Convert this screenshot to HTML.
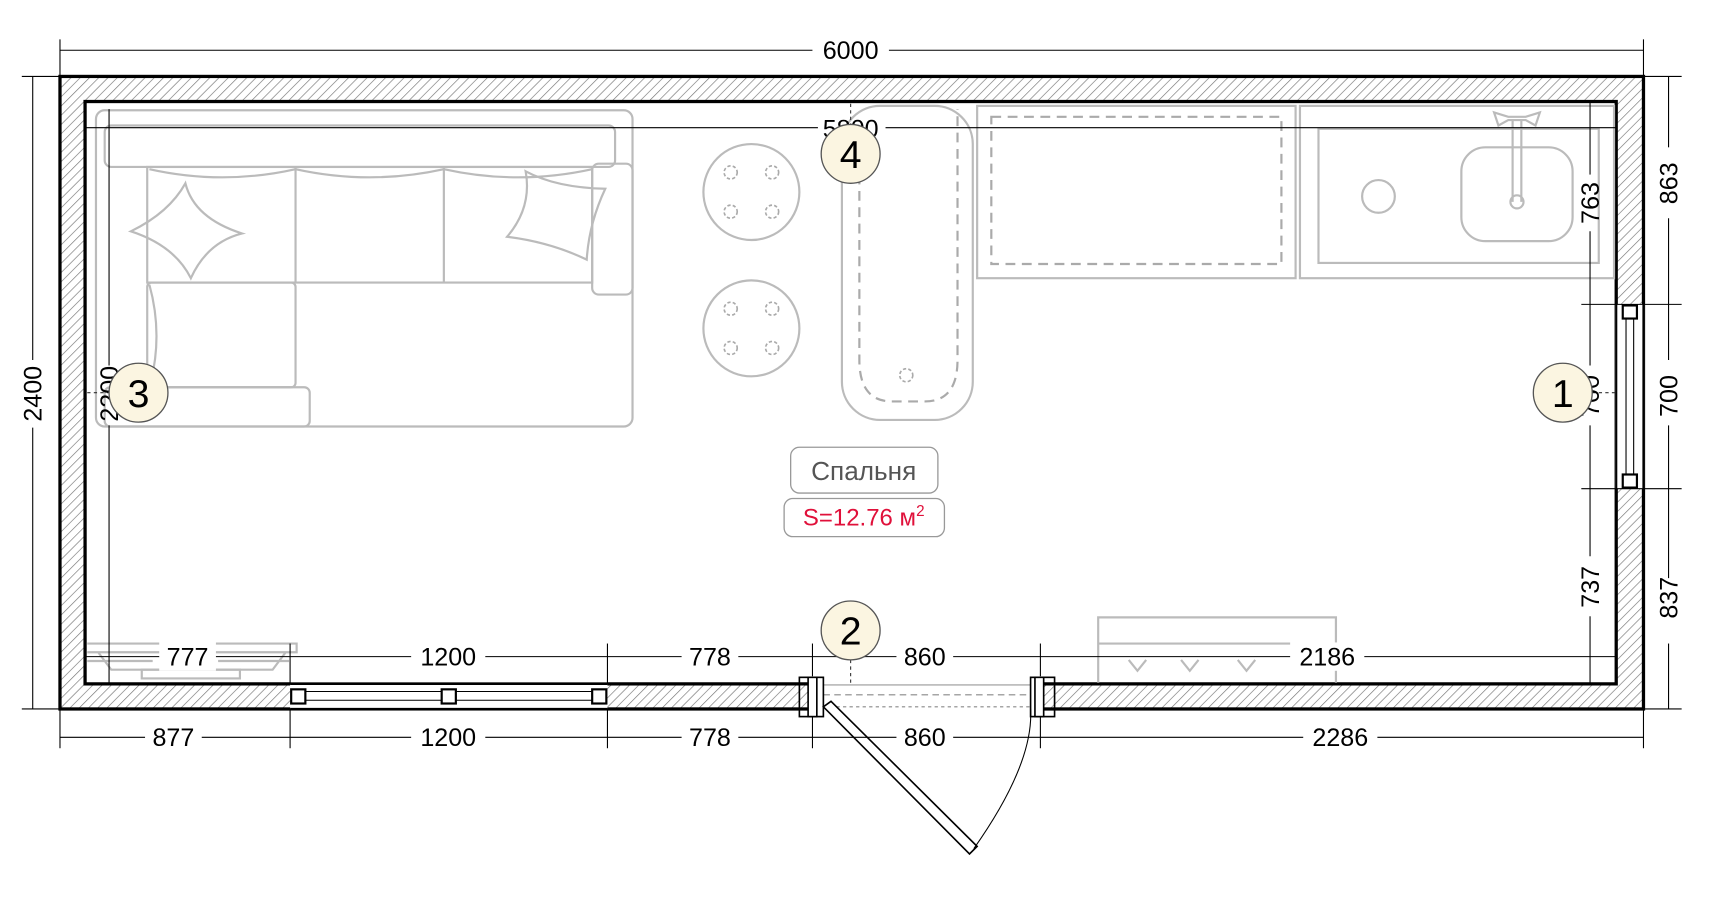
<!DOCTYPE html>
<html><head><meta charset="utf-8"><style>
html,body{margin:0;padding:0;background:#fff;}
svg{display:block;}
text{font-family:"Liberation Sans",Arial,sans-serif;}
</style></head><body>
<svg width="1710" height="913" viewBox="0 0 1568 837" xmlns="http://www.w3.org/2000/svg">
<defs>
<pattern id="h" width="6" height="6" patternUnits="userSpaceOnUse" patternTransform="rotate(45)">
<rect width="6" height="6" fill="#fff"/><line x1="0" y1="0" x2="0" y2="6" stroke="#777" stroke-width="1.2"/>
</pattern>
</defs>
<path d="M55,70 H1507 V650 H55 Z M78,93 V627 H1482 V93 Z" fill="url(#h)" fill-rule="evenodd"/>
<rect x="55" y="70" width="1452" height="580" fill="none" stroke="#000" stroke-width="3"/>
<rect x="78" y="93" width="1404" height="534" fill="none" stroke="#000" stroke-width="3"/>
<rect x="1481" y="279" width="27" height="169" fill="#fff"/>
<line x1="1482" y1="279" x2="1482" y2="448" stroke="#000" stroke-width="2"/>
<line x1="1507" y1="279" x2="1507" y2="448" stroke="#000" stroke-width="2"/>
<line x1="1491" y1="290" x2="1491" y2="440" stroke="#000" stroke-width="1"/>
<line x1="1498" y1="290" x2="1498" y2="440" stroke="#000" stroke-width="1"/>
<rect x="1488" y="280" width="13" height="12" fill="#fff" stroke="#000" stroke-width="2"/>
<rect x="1488" y="435" width="13" height="12" fill="#fff" stroke="#000" stroke-width="2"/>
<rect x="266" y="626" width="291" height="25" fill="#fff"/>
<line x1="266" y1="627" x2="557" y2="627" stroke="#000" stroke-width="2"/>
<line x1="266" y1="650" x2="557" y2="650" stroke="#000" stroke-width="2"/>
<line x1="270" y1="634" x2="553" y2="634" stroke="#000" stroke-width="1"/>
<line x1="270" y1="642" x2="553" y2="642" stroke="#000" stroke-width="1"/>
<rect x="267" y="632" width="13" height="13" fill="#fff" stroke="#000" stroke-width="2"/>
<rect x="405" y="632" width="13" height="13" fill="#fff" stroke="#000" stroke-width="2"/>
<rect x="543" y="632" width="13" height="13" fill="#fff" stroke="#000" stroke-width="2"/>
<rect x="745" y="625" width="209" height="27" fill="#fff"/>
<line x1="755" y1="628" x2="945" y2="628" stroke="#999" stroke-width="1"/>
<line x1="755" y1="637" x2="945" y2="637" stroke="#888" stroke-width="1" stroke-dasharray="6,4"/>
<line x1="755" y1="648" x2="945" y2="648" stroke="#888" stroke-width="1" stroke-dasharray="3,3"/>
<rect x="733" y="621" width="22" height="36" fill="none" stroke="#000" stroke-width="1.5"/>
<rect x="741" y="621" width="8" height="36" fill="#fff" stroke="#000" stroke-width="1.5"/>
<rect x="945" y="621" width="22" height="36" fill="none" stroke="#000" stroke-width="1.5"/>
<rect x="949" y="621" width="8" height="36" fill="#fff" stroke="#000" stroke-width="1.5"/>
<polygon points="755,648 762,643 896,776 889,783" fill="#fff" stroke="#000" stroke-width="1.5"/>
<path d="M893,778 Q948,700 945,650" fill="none" stroke="#000" stroke-width="1"/>
<g fill="none" stroke="#bbb" stroke-width="2">
<rect x="88" y="101" width="492" height="290" rx="8"/>
<rect x="96" y="115" width="468" height="38" rx="6"/>
<rect x="543" y="150" width="37" height="120" rx="6"/>
<rect x="135" y="153" width="408" height="106"/>
<line x1="271" y1="153" x2="271" y2="259"/><line x1="407" y1="153" x2="407" y2="259"/>
<path d="M137,155 Q204,170 271,155 Q339,170 407,155 Q475,170 543,155"/>
<rect x="135" y="259" width="136" height="96" rx="4"/>
<path d="M137,261 Q150,308 137,355"/>
<rect x="96" y="355" width="188" height="36" rx="5"/>
<path d="M170,168 Q178,200 222,214 Q190,222 175,255 Q160,225 120,212 Q155,195 170,168Z"/>
<path d="M482,157 Q510,172 555,173 Q540,205 538,238 Q505,222 465,217 Q488,190 482,157Z"/>
<circle cx="689" cy="176" r="44"/><circle cx="689" cy="301" r="44"/>
<rect x="772" y="97" width="120" height="288" rx="35"/>
<rect x="896" y="97" width="292" height="158"/>
<rect x="1192" y="97" width="288" height="158"/>
<rect x="1209" y="118" width="257" height="123"/>
<circle cx="1264" cy="180" r="15"/>
<rect x="1340" y="135" width="102" height="86" rx="22"/>
<line x1="1387" y1="110" x2="1387" y2="185"/><line x1="1395" y1="110" x2="1395" y2="185"/>
<circle cx="1391" cy="185" r="6"/>
<path d="M1370,103 L1383,107 L1399,107 L1412,103 L1408,115 L1399,110 L1383,110 L1374,115Z"/>
<path d="M1007,626 V566 H1225 V626"/><line x1="1007" y1="590" x2="1185" y2="590"/>
<path d="M1035,605 l8,10 l8,-10 M1083,605 l8,10 l8,-10 M1135,605 l8,10 l8,-10"/>
<path d="M80,590 H272 V598 H80 M80,606 H140 M200,606 H265 M90,598 L102,614 H250 L262,598"/>
<rect x="130" y="614" width="90" height="8"/>
</g>
<g fill="none" stroke="#aaa" stroke-width="2" stroke-dasharray="9,6">
<rect x="909" y="107" width="266" height="135"/>
<path d="M788,115 V330 Q788,368 818,368 H848 Q878,368 878,330 V100"/>
</g>
<g fill="none" stroke="#aaa" stroke-width="1.5" stroke-dasharray="3,2">
<circle cx="670" cy="158" r="6"/><circle cx="708" cy="158" r="6"/><circle cx="670" cy="194" r="6"/><circle cx="708" cy="194" r="6"/>
<circle cx="670" cy="283" r="6"/><circle cx="708" cy="283" r="6"/><circle cx="670" cy="319" r="6"/><circle cx="708" cy="319" r="6"/>
<circle cx="831" cy="344" r="6"/>
</g>
<g stroke="#000" stroke-width="1" fill="none">
<line x1="55" y1="46" x2="745" y2="46"/><line x1="815" y1="46" x2="1507" y2="46"/>
<line x1="55" y1="36" x2="55" y2="70"/><line x1="1507" y1="36" x2="1507" y2="70"/>
<line x1="30" y1="70" x2="30" y2="330"/><line x1="30" y1="392" x2="30" y2="650"/>
<line x1="20" y1="70" x2="55" y2="70"/><line x1="20" y1="650" x2="55" y2="650"/>
<line x1="1530" y1="70" x2="1530" y2="135"/><line x1="1530" y1="200" x2="1530" y2="330"/><line x1="1530" y1="390" x2="1530" y2="530"/><line x1="1530" y1="590" x2="1530" y2="650"/>
<line x1="1507" y1="70" x2="1542" y2="70"/><line x1="1507" y1="650" x2="1542" y2="650"/>
<line x1="1450" y1="279" x2="1542" y2="279"/><line x1="1450" y1="448" x2="1542" y2="448"/>
<line x1="1458" y1="93" x2="1458" y2="160"/><line x1="1458" y1="212" x2="1458" y2="335"/><line x1="1458" y1="390" x2="1458" y2="510"/><line x1="1458" y1="565" x2="1458" y2="627"/>
<line x1="78" y1="117" x2="750" y2="117"/><line x1="812" y1="117" x2="1482" y2="117"/>
<line x1="100" y1="100" x2="100" y2="335"/><line x1="100" y1="390" x2="100" y2="627"/>
<line x1="78" y1="602" x2="1482" y2="602"/>
<line x1="266" y1="590" x2="266" y2="627"/><line x1="557" y1="590" x2="557" y2="627"/><line x1="745" y1="590" x2="745" y2="620"/><line x1="954" y1="590" x2="954" y2="620"/>
<line x1="55" y1="676" x2="1507" y2="676"/>
<line x1="55" y1="650" x2="55" y2="686"/><line x1="266" y1="650" x2="266" y2="686"/><line x1="557" y1="650" x2="557" y2="686"/><line x1="745" y1="657" x2="745" y2="686"/><line x1="954" y1="657" x2="954" y2="686"/><line x1="1507" y1="650" x2="1507" y2="686"/>
</g>
<g stroke="#333" stroke-width="1" stroke-dasharray="3,3">
<line x1="780" y1="95" x2="780" y2="115"/><line x1="780" y1="605" x2="780" y2="627"/>
<line x1="80" y1="360" x2="100" y2="360"/><line x1="1460" y1="360" x2="1482" y2="360"/>
</g>
<g font-size="23" fill="#000" text-anchor="middle">
<rect x="745" y="33" width="70" height="26" fill="#fff"/>
<text x="780" y="54">6000</text>
<rect x="146" y="589" width="52" height="26" fill="#fff"/><text x="172" y="610">777</text>
<rect x="377" y="589" width="68" height="26" fill="#fff"/><text x="411" y="610">1200</text>
<rect x="625" y="589" width="52" height="26" fill="#fff"/><text x="651" y="610">778</text>
<rect x="822" y="589" width="52" height="26" fill="#fff"/><text x="848" y="610">860</text>
<rect x="1183" y="589" width="68" height="26" fill="#fff"/><text x="1217" y="610">2186</text>
<rect x="133" y="663" width="52" height="26" fill="#fff"/><text x="159" y="684">877</text>
<rect x="377" y="663" width="68" height="26" fill="#fff"/><text x="411" y="684">1200</text>
<rect x="625" y="663" width="52" height="26" fill="#fff"/><text x="651" y="684">778</text>
<rect x="822" y="663" width="52" height="26" fill="#fff"/><text x="848" y="684">860</text>
<rect x="1195" y="663" width="68" height="26" fill="#fff"/><text x="1229" y="684">2286</text>
<text x="780" y="126">5800</text>
<text transform="translate(38,361) rotate(-90)">2400</text>
<text transform="translate(1538,168) rotate(-90)">863</text>
<text transform="translate(1538,363) rotate(-90)">700</text>
<text transform="translate(1538,548) rotate(-90)">837</text>
<text transform="translate(1466,186) rotate(-90)">763</text>
<text transform="translate(1466,363) rotate(-90)">700</text>
<text transform="translate(1466,538) rotate(-90)">737</text>
<text transform="translate(108,361) rotate(-90)">2200</text>
</g>
<g fill="#fbf5e1" stroke="#555" stroke-width="1.2">
<circle cx="780" cy="141" r="27"/><circle cx="127" cy="360" r="27"/><circle cx="1433" cy="360" r="27"/><circle cx="780" cy="578" r="27"/>
</g>
<g font-size="36" fill="#000" text-anchor="middle">
<text x="780" y="154">4</text><text x="127" y="373">3</text><text x="1433" y="373">1</text><text x="780" y="591">2</text>
</g>
<rect x="725" y="410" width="135" height="42" rx="8" fill="#fff" stroke="#999" stroke-width="1.2"/>
<text x="792" y="440" font-size="24" fill="#555" text-anchor="middle">Спальня</text>
<rect x="719" y="457" width="147" height="35" rx="8" fill="#fff" stroke="#999" stroke-width="1.2"/>
<text x="792" y="482" font-size="22" fill="#e0103a" text-anchor="middle">S=12.76 м<tspan font-size="14" dy="-9">2</tspan></text>
</svg>
</body></html>
